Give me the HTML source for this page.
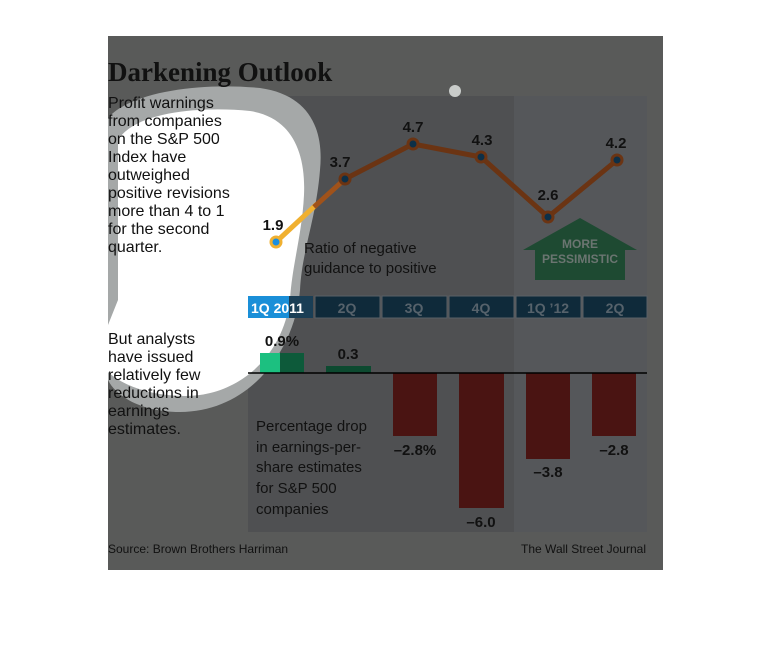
<!DOCTYPE html>
<html><head><style>
body{margin:0;width:770px;height:664px;background:#fff;overflow:hidden;font-family:"Liberation Sans",sans-serif}
</style></head><body>
<svg width="770" height="664" xmlns="http://www.w3.org/2000/svg" style="position:absolute;left:0;top:0">
<rect x="108" y="36" width="555" height="534" fill="#595a59"/>
<rect x="248" y="96" width="266" height="436" fill="#4f5052"/>
<rect x="514" y="96" width="133" height="436" fill="#55575a"/>
<!-- blob -->
<path d="M108,360 L108,118 C130,92 200,82 260,88 C310,95 324,130 320,170 C316,220 302,250 300,290 C295,350 250,412 180,412 C140,412 115,395 108,380 Z" fill="#a5a8a8"/>
<path d="M118,140 C135,112 200,106 250,111 C290,117 306,150 304,195 C302,235 292,265 290,300 C283,355 240,396 185,396 C150,396 122,385 108,372 L108,325 L118,300 Z" fill="#ffffff"/>
<text x="108" y="81" font-family="Liberation Serif,serif" font-weight="bold" font-size="27" fill="#111">Darkening Outlook</text>
<g font-size="16" fill="#111">
<text x="108" y="108">Profit warnings</text><text x="108" y="126">from companies</text><text x="108" y="144">on the S&amp;P 500</text><text x="108" y="162">Index have</text><text x="108" y="180">outweighed</text><text x="108" y="198">positive revisions</text><text x="108" y="216">more than 4 to 1</text><text x="108" y="234">for the second</text><text x="108" y="252">quarter.</text>
<text x="108" y="344">But analysts</text><text x="108" y="362">have issued</text><text x="108" y="380">relatively few</text><text x="108" y="398">reductions in</text><text x="108" y="416">earnings</text><text x="108" y="434">estimates.</text>
</g>
<circle cx="455" cy="91" r="6" fill="#c9ccca"/>
<!-- arrow -->
<path d="M523,250 L580,218 L637,250 L625,250 L625,280 L535,280 L535,250 Z" fill="#1e4a32"/>
<text x="580" y="248" text-anchor="middle" font-size="12" font-weight="bold" fill="#6b7571">MORE</text>
<text x="580" y="263" text-anchor="middle" font-size="12" font-weight="bold" fill="#6b7571">PESSIMISTIC</text>
<!-- line -->
<polyline points="345,179 413,144 481,157 548,217 617,160" fill="none" stroke="#6b3413" stroke-width="5"/>
<line x1="276" y1="242" x2="317" y2="204" stroke="#f0b030" stroke-width="5"/>
<line x1="314" y1="207" x2="345" y2="179" stroke="#a0521a" stroke-width="5"/>
<g fill="#0d3048" stroke="#6b3413" stroke-width="3">
<circle cx="345" cy="179" r="5"/><circle cx="413" cy="144" r="5"/><circle cx="481" cy="157" r="5"/><circle cx="548" cy="217" r="5"/><circle cx="617" cy="160" r="5"/></g>
<circle cx="276" cy="242" r="5" fill="#1a8fe0" stroke="#f0b030" stroke-width="3"/>
<g font-size="15" font-weight="bold" fill="#111" text-anchor="middle">
<text x="273" y="230">1.9</text><text x="340" y="167">3.7</text><text x="413" y="132">4.7</text><text x="482" y="145">4.3</text><text x="548" y="200">2.6</text><text x="616" y="148">4.2</text>
</g>
<text x="304" y="253" font-size="15" fill="#111">Ratio of negative</text>
<text x="304" y="273" font-size="15" fill="#111">guidance to positive</text>
<!-- tabs -->
<g fill="#0f2a3a" stroke="#5a6066" stroke-width="1">
<rect x="315" y="296" width="65" height="22"/><rect x="382" y="296" width="65" height="22"/><rect x="449" y="296" width="65" height="22"/><rect x="516" y="296" width="65" height="22"/><rect x="583" y="296" width="64" height="22"/>
</g>
<rect x="248" y="296" width="56" height="22" fill="#1a8fd8"/>
<rect x="289" y="296" width="24" height="22" fill="#1a3e55"/>
<g font-size="14" font-weight="bold" fill="#56626b" text-anchor="middle">
<text x="347" y="313">2Q</text><text x="414" y="313">3Q</text><text x="481" y="313">4Q</text><text x="548" y="313">1Q ’12</text><text x="615" y="313">2Q</text></g>
<text x="251" y="313" font-size="14" font-weight="bold" fill="#fff">1Q 2011</text>
<!-- bars -->
<rect x="260" y="353" width="44" height="20" fill="#0d5a3a"/>
<rect x="260" y="353" width="20" height="20" fill="#1cc080"/>
<rect x="326" y="366" width="45" height="7" fill="#0d4a30"/>
<g fill="#4a1412"><rect x="393" y="373" width="44" height="63"/><rect x="459" y="373" width="45" height="135"/><rect x="526" y="373" width="44" height="86"/><rect x="592" y="373" width="44" height="63"/></g>
<line x1="248" y1="373" x2="647" y2="373" stroke="#000" stroke-width="1.5"/>
<g font-size="15" font-weight="bold" fill="#111" text-anchor="middle">
<text x="282" y="346">0.9%</text><text x="348" y="359">0.3</text><text x="415" y="455">–2.8%</text><text x="481" y="527">–6.0</text><text x="548" y="477">–3.8</text><text x="614" y="455">–2.8</text></g>
<g font-size="15" fill="#111">
<text x="256" y="431">Percentage drop</text><text x="256" y="452">in earnings-per-</text><text x="256" y="472">share estimates</text><text x="256" y="493">for S&amp;P 500</text><text x="256" y="514">companies</text></g>
<text x="108" y="553" font-size="12" fill="#111">Source: Brown Brothers Harriman</text>
<text x="646" y="553" font-size="12" fill="#111" text-anchor="end">The Wall Street Journal</text>
</svg>
</body></html>
